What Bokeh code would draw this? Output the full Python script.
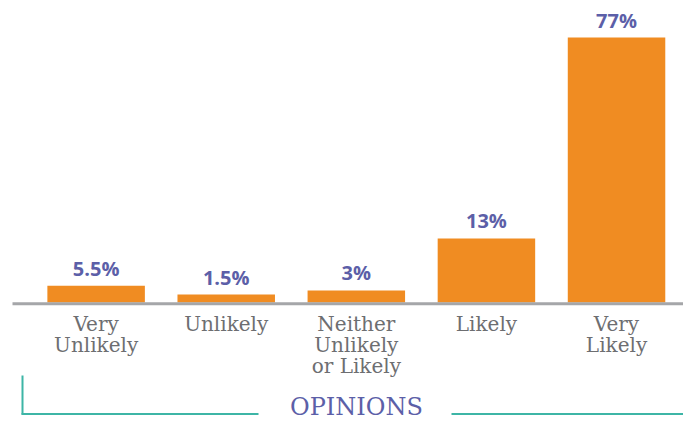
from bokeh.plotting import figure
from bokeh.models import Range1d
from bokeh.embed import file_html
from bokeh.resources import INLINE
from bokeh.core.properties import value

# ---- data ----
categories = ["Very\nUnlikely", "Unlikely", "Neither\nUnlikely\nor Likely", "Likely", "Very\nLikely"]
value_labels = ["5.5%", "1.5%", "3%", "13%", "77%"]
bar_heights = [4.9, 2.3, 3.5, 18.6, 77.0]
axis_title = "OPINIONS"

# ---- styling ----
ORANGE = "#F08C22"
PURPLE = "#5C5FA8"
GRAY_TEXT = "#6D6E71"
BASE_GRAY = "#A5A6A9"
TEAL = "#3DB5A6"

W, H = 683, 421
PX_PER_UNIT = 265 / 77.0
X_SPACING = 130.1
X_START = -0.735
BASE_PX = 302.0  # baseline position in figure pixels (from top)


def px_x(px):
    return X_START + px / X_SPACING


def px_y(py):
    return (BASE_PX - py) / PX_PER_UNIT


idx = list(range(len(categories)))

p = figure(width=W, height=H, output_backend="svg", toolbar_location=None,
           x_range=Range1d(px_x(0), px_x(W)), y_range=Range1d(px_y(H), px_y(0)),
           min_border=0, min_border_left=0, min_border_right=0,
           min_border_top=0, min_border_bottom=0)
p.axis.visible = False
p.grid.visible = False
p.outline_line_color = None
p.background_fill_color = "white"
p.border_fill_color = "white"

p.vbar(x=idx, top=bar_heights, bottom=0, width=97.5 / X_SPACING,
       fill_color=ORANGE, line_color=None)

# baseline
p.segment(x0=[px_x(12)], y0=[px_y(303.3)], x1=[px_x(W)], y1=[px_y(303.3)],
          line_color=BASE_GRAY, line_width=3)

# value labels
p.text(x=idx, y=[h + 17.5 / PX_PER_UNIT for h in bar_heights], text=value_labels,
       text_align="center", text_baseline="alphabetic",
       text_font=value("Open Sans"), text_font_style="bold",
       text_font_size="20px", text_color=PURPLE)

# category labels
p.text(x=idx, y=[px_y(311)] * len(idx), text=categories,
       text_align="center", text_baseline="top", text_line_height=0.88,
       text_font=value("DejaVu Serif"), text_font_size="20px",
       text_color=GRAY_TEXT)

# bracket
p.segment(x0=[px_x(22)], y0=[px_y(375)], x1=[px_x(22)], y1=[px_y(414)],
          line_color=TEAL, line_width=2)
p.segment(x0=[px_x(21), px_x(451)], y0=[px_y(413.5)] * 2,
          x1=[px_x(258), px_x(W)], y1=[px_y(413.5)] * 2,
          line_color=TEAL, line_width=2)

p.text(x=[px_x(356)], y=[px_y(406)], text=[axis_title],
       text_align="center", text_baseline="alphabetic",
       text_font=value("DejaVu Serif"), text_font_size="24px",
       text_color=PURPLE)

open("out.html", "w").write(file_html(p, INLINE))
